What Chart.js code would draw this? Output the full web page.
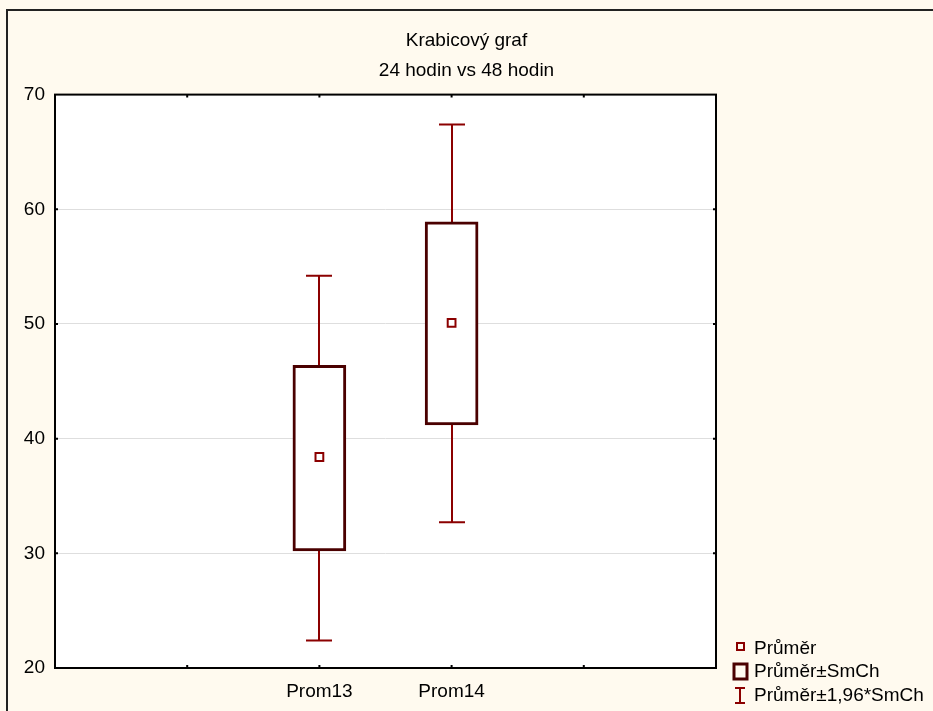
<!DOCTYPE html>
<html lang="cs">

<head>
  <meta charset="UTF-8">
  <title>Krabicový graf</title>
  <script src="https://cdn.jsdelivr.net/npm/chart.js@4.4.1/dist/chart.umd.min.js"></script>
  <style>
    body { margin: 0; background: #fffaef; }
  </style>
</head>

<body>
  <canvas id="chart" width="933" height="711"></canvas>
</body>

<script>
  // values
  const categories = ['Prom13', 'Prom14'];
  const means = [38.4, 50.1];
  const seLow = [30.2, 41.2];
  const seHigh = [46.4, 58.9];
  const ciLow = [22.4, 32.7];
  const ciHigh = [54.2, 67.4];
  const axisLabels = ['', '', 'Prom13', 'Prom14', '', ''];
  const yTicks = [20, 30, 40, 50, 60, 70];

  const FONT = 'Arial, "Liberation Sans", sans-serif';
  const FSIZE = 19;
  const RED = '#8b0000';
  const BOXC = '#4a0000';

  const whiskers = {
    id: 'whiskers',
    beforeDraw(chart) {
      const c = chart.ctx, a = chart.chartArea;
      c.save();
      c.fillStyle = '#fffaef';
      c.fillRect(0, 0, chart.width, chart.height);
      c.strokeStyle = '#222';
      c.lineWidth = 2;
      c.strokeRect(7, 10, chart.width + 20, chart.height + 20);
      c.fillStyle = '#fff';
      c.fillRect(a.left, a.top, a.right - a.left, a.bottom - a.top);
      c.restore();
    },
    beforeDatasetsDraw(chart) {
      const c = chart.ctx, x = chart.scales.x, y = chart.scales.y;
      c.save();
      c.strokeStyle = RED;
      c.lineWidth = 2;
      categories.forEach((cat, i) => {
        const px = Math.round(x.getPixelForValue(axisLabels.indexOf(cat)));
        const top = y.getPixelForValue(ciHigh[i]);
        const bot = y.getPixelForValue(ciLow[i]);
        c.beginPath();
        c.moveTo(px, top); c.lineTo(px, bot);
        c.moveTo(px - 13, top); c.lineTo(px + 13, top);
        c.moveTo(px - 13, bot); c.lineTo(px + 13, bot);
        c.stroke();
      });
      c.restore();
    },
    afterDraw(chart) {
      const c = chart.ctx, a = chart.chartArea, x = chart.scales.x, y = chart.scales.y;
      c.save();
      c.strokeStyle = '#000';
      c.lineWidth = 2;
      c.strokeRect(a.left, a.top, a.right - a.left, a.bottom - a.top);
      c.beginPath();
      for (let i = 1; i < axisLabels.length - 1; i++) {
        const px = x.getPixelForValue(i);
        c.moveTo(px, a.bottom); c.lineTo(px, a.bottom - 3);
        c.moveTo(px, a.top); c.lineTo(px, a.top + 3);
      }
      yTicks.slice(1, -1).forEach(v => {
        const py = y.getPixelForValue(v);
        c.moveTo(a.left, py); c.lineTo(a.left + 3, py);
        c.moveTo(a.right, py); c.lineTo(a.right - 3, py);
      });
      c.stroke();

      // legend
      const lx = 740;
      c.font = FSIZE + 'px ' + FONT;
      c.fillStyle = '#000';
      c.textBaseline = 'middle';
      c.fillText('Průměr', 754, 649);
      c.fillText('Průměr±SmCh', 754, 672);
      c.fillText('Průměr±1,96*SmCh', 754, 696);
      c.strokeStyle = RED;
      c.lineWidth = 2;
      c.strokeRect(lx - 3, 643, 7, 7);
      c.strokeStyle = BOXC;
      c.lineWidth = 3;
      c.strokeRect(lx - 6, 664, 13, 15);
      c.strokeStyle = RED;
      c.lineWidth = 2;
      c.beginPath();
      c.moveTo(lx, 688); c.lineTo(lx, 703);
      c.moveTo(lx - 5, 688); c.lineTo(lx + 5, 688);
      c.moveTo(lx - 5, 703); c.lineTo(lx + 5, 703);
      c.stroke();
      c.restore();
    }
  };

  const chart = new Chart(document.getElementById('chart'), {
    data: {
      labels: axisLabels,
      datasets: [{
        type: 'line',
        label: 'Průměr',
        data: categories.map((cat, i) => ({ x: cat, y: means[i] })),
        showLine: false,
        pointStyle: 'rect',
        pointRadius: 5.5,
        pointBorderWidth: 2,
        pointBorderColor: RED,
        pointBackgroundColor: '#fff',
        order: 1
      }, {
        type: 'bar',
        label: 'Průměr±SmCh',
        data: categories.map((cat, i) => ({ x: cat, y: [seLow[i], seHigh[i]] })),
        backgroundColor: '#fff',
        borderColor: BOXC,
        borderWidth: 3,
        borderSkipped: false,
        barThickness: 53,
        order: 2
      }]
    },
    options: {
      responsive: false,
      animation: false,
      layout: { padding: 0 },
      plugins: {
        legend: { display: false },
        tooltip: { enabled: false },
        title: {
          display: true,
          text: 'Krabicový graf',
          color: '#000',
          font: { family: FONT, size: FSIZE, weight: 'normal' },
          padding: { top: 29, bottom: 4 }
        },
        subtitle: {
          display: true,
          text: '24 hodin vs 48 hodin',
          color: '#000',
          font: { family: FONT, size: FSIZE, weight: 'normal' },
          padding: { top: 4, bottom: 12 }
        }
      },
      scales: {
        x: {
          type: 'category',
          offset: false,
          grid: { display: false },
          border: { display: false },
          ticks: {
            color: '#000',
            font: { family: FONT, size: FSIZE },
            autoSkip: false,
            maxRotation: 0,
            padding: 4
          },
          afterFit(s) { s.height = 43; }
        },
        y: {
          min: 20,
          max: 70,
          afterBuildTicks(s) { s.ticks = yTicks.map(v => ({ value: v })); },
          grid: { color: '#dedede', lineWidth: 1, drawTicks: false },
          border: { display: false },
          ticks: {
            color: '#000',
            font: { family: FONT, size: FSIZE },
            padding: 10
          },
          afterFit(s) { s.width = 55; }
        },
        yRight: {
          position: 'right',
          min: 20,
          max: 70,
          grid: { display: false },
          border: { display: false },
          ticks: { display: false },
          afterFit(s) { s.width = 217; }
        }
      }
    },
    plugins: [whiskers]
  });
</script>

</html>
